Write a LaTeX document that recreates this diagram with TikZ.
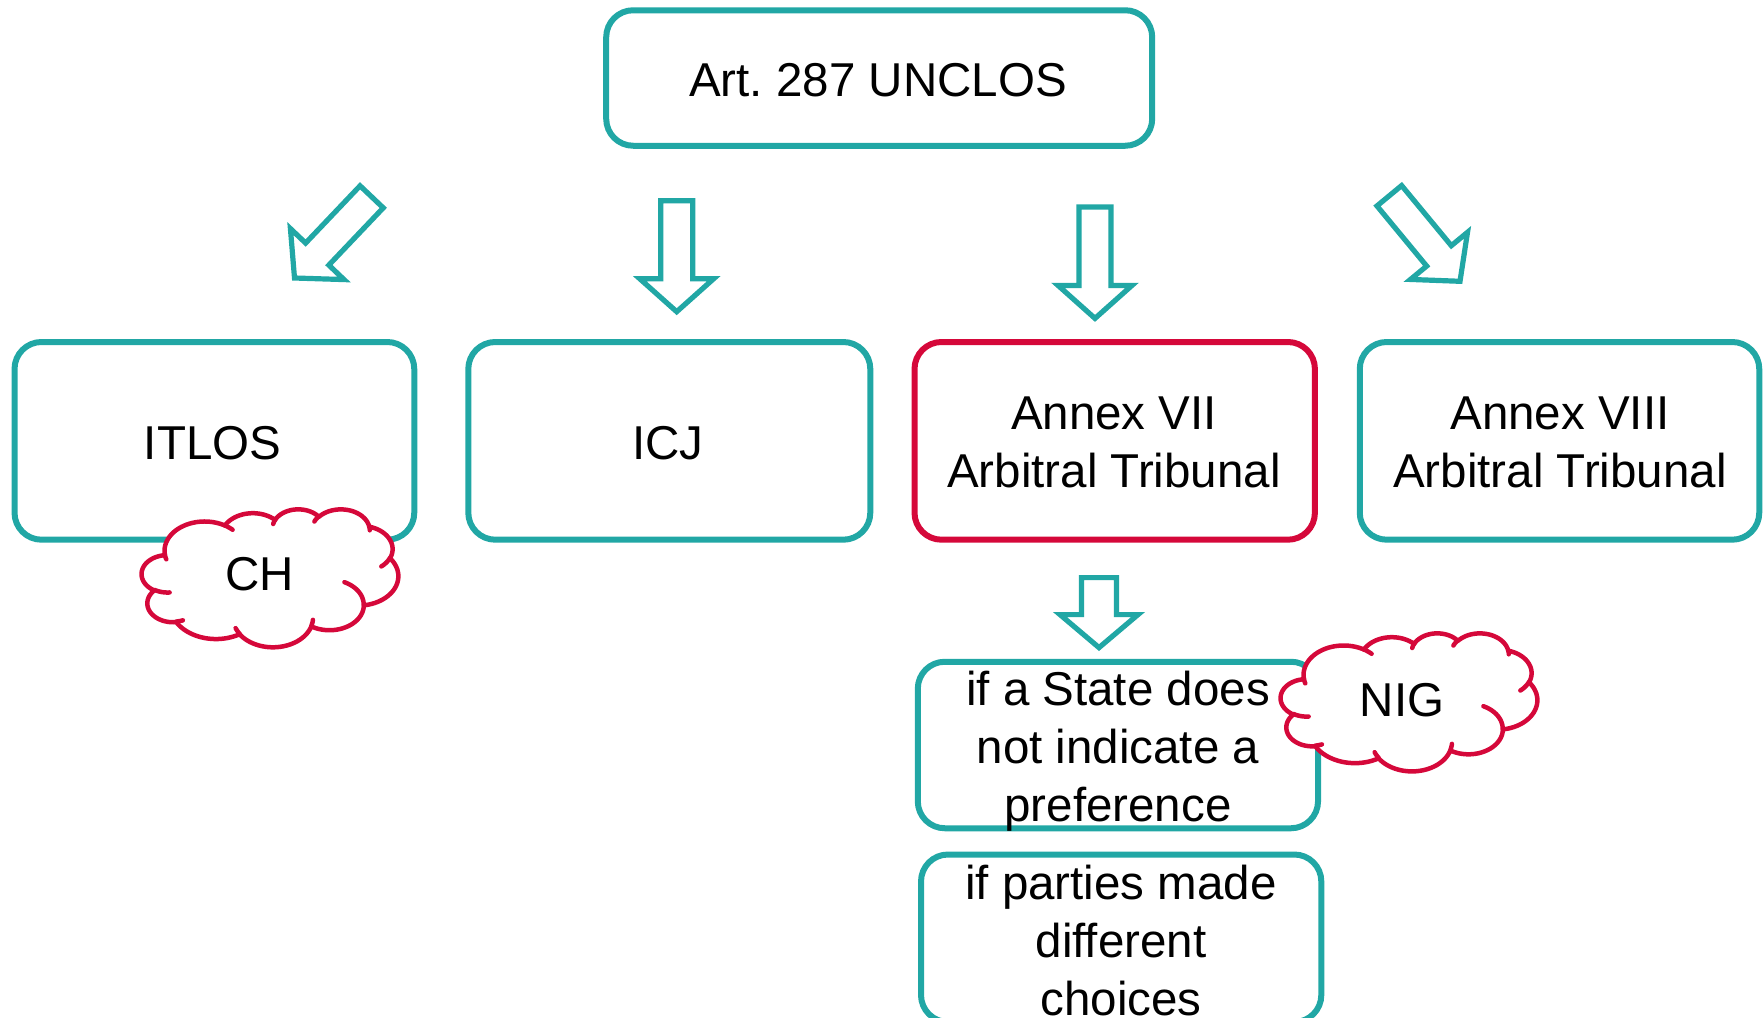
\documentclass[tikz,border=0pt]{standalone}
\usepackage{fontspec}
\setmainfont{Liberation Sans}
\definecolor{tealc}{RGB}{33,167,165}
\definecolor{redc}{RGB}{213,8,58}
\tikzset{
  box/.style={draw=tealc, line width=6pt, rounded corners=27pt, inner sep=0pt, outer sep=0pt},
  redbox/.style={box, draw=redc},
  txt/.style={font=\fontsize{47.5}{58}\selectfont, align=center, inner sep=0pt, text=black},
  arrowline/.style={draw=tealc, line width=5.2pt, fill=white, line join=miter},
  cloudline/.style={draw=redc, line width=4.5pt, line join=round, line cap=round},
  pics/barrow/.style args={#1/#2/#3/#4}{code={%
    \draw[arrowline] (-#1,-#4) -- (#1,-#4) -- (#1,-#3) -- (#2,-#3) -- (0,0) -- (-#2,-#3) -- (-#1,-#3) -- cycle;}}
}
% PowerPoint-style cloud path (normalised to 0..100)
\def\cldpath{}
\newcommand\cldM[2]{\xdef\cldx{#1}\xdef\cldy{#2}\xdef\cldpath{\unexpanded\expandafter{\cldpath} (#1,#2)}}
\newcommand\cldA[4]{%
  \pgfmathsetmacro\cldts{atan2((#1)*sin(#3),(#2)*cos(#3))}%
  \pgfmathsetmacro\cldte{atan2((#1)*sin((#3)+(#4)),(#2)*cos((#3)+(#4)))}%
  \pgfmathsetmacro\cldtu{\cldts+mod(\cldte-(\cldts)+720,360)}%
  \pgfmathsetmacro\cldcx{\cldx-(#1)*cos(\cldts)}%
  \pgfmathsetmacro\cldcy{\cldy-(#2)*sin(\cldts)}%
  \pgfmathsetmacro\cldnx{\cldcx+(#1)*cos(\cldtu)}%
  \pgfmathsetmacro\cldny{\cldcy+(#2)*sin(\cldtu)}%
  \xdef\cldpath{\unexpanded\expandafter{\cldpath} -- plot[domain=\cldts:\cldtu,samples=30] ({\cldcx+(#1)*cos(\noexpand\x)},{\cldcy+(#2)*sin(\noexpand\x)})}%
  \xdef\cldx{\cldnx}\xdef\cldy{\cldny}}
\begin{document}
\begin{tikzpicture}[x=1pt,y=-1pt]
\useasboundingbox (0,0) rectangle (1763,1017);
\clip (0,0) rectangle (1763,1017);
% build cloud outline
\def\cldpath{}%
\cldM{9.0278}{33.2639}%
\cldA{15.6319}{21.2731}{-190.48748}{123.78053}%
\cldA{12.3449}{16.8218}{-144.10238}{89.94523}%
\cldA{10.1042}{13.7616}{-145.80792}{99.72302}%
\cldA{11.2431}{15.2662}{-130.98607}{117.24173}%
\cldA{12.3449}{16.8356}{-78.70888}{109.02692}%
\cldA{15.6829}{21.3426}{-46.26725}{130.269}%
\cldA{13.3912}{18.2106}{0.62502}{114.03333}%
\cldA{15.6296}{21.3310}{22.4516}{115.17255}%
\cldA{17.8704}{24.4051}{66.24263}{75.71102}%
\cldA{10.0926}{13.6991}{-274.94208}{146.73557}%
\cldA{10.0579}{13.7616}{-246.8285}{152.51885}%
\let\cldmain\cldpath
\def\cldpath{}%
\cldM{10.8634}{60.5949}\cldA{10.0579}{13.7616}{86.742}{26.4295}%
\cldM{16.0370}{80.7847}\cldA{10.0926}{13.6991}{73.61047}{11.44747}%
\cldM{38.1435}{90.4861}\cldA{15.6296}{21.3310}{137.62415}{14.0811}%
\cldM{66.7292}{80.4421}\cldA{15.6296}{21.3310}{6.45327}{15.99835}%
\cldM{79.0023}{53.1343}\cldA{13.3912}{18.2106}{-70.29235}{70.91737}%
\cldM{96.7546}{35.5417}\cldA{12.3449}{16.8356}{30.31803}{27.7515}%
\cldM{88.7130}{12.5602}\cldA{11.2431}{15.2662}{-13.74433}{14.8589}%
\cldM{67.3102}{9.1481}\cldA{11.2431}{15.2662}{-149.18145}{18.197}%
\cldM{51.2523}{10.9259}\cldA{10.1042}{13.7616}{-163.49427}{17.68748}%
\cldM{32.4074}{12.0185}\cldA{15.6319}{21.2731}{-66.70695}{12.31935}%
\cldM{9.5532}{36.5486}\cldA{15.6319}{21.2731}{157.65435}{11.85817}%
\let\clddetail\cldpath
% top box
\node[box, minimum width=546pt, minimum height=135.5pt] (top) at (879.2,78) {};
\node[txt, anchor=base] (topt) at (878,96.7) {Art.\ 287 UNCLOS};
% second row boxes
\node[box, minimum width=399.75pt, minimum height=197.7pt] (itlos) at (214.4,440.85) {};
\node[box, minimum width=402pt, minimum height=197.7pt] (icj) at (669.3,440.85) {};
\node[redbox, minimum width=400.4pt, minimum height=197.7pt] (ann7) at (1114.7,440.85) {};
\node[box, minimum width=399.5pt, minimum height=197.7pt] (ann8) at (1559.5,440.85) {};
\node[txt, anchor=base] (itlost) at (212.5,459.9) {ITLOS};
\node[txt, anchor=base] (icjt) at (668,459.9) {ICJ};
\node[txt, anchor=base] (ann7t) at (1114,487.5) {Annex VII\\Arbitral Tribunal};
\node[txt, anchor=base] (ann8t) at (1560,487.5) {Annex VIII\\Arbitral Tribunal};
% block arrows
\pic at (294.5,278) [rotate=-43.55] {barrow=16/37/33/112};
\pic at (676.7,311.7) {barrow=16/37/33/111};
\pic at (1095,318.4) {barrow=16/37/33/111.5};
\pic at (1460,281.3) [rotate=39.57] {barrow=16/37/33/111};
\pic at (1099,647.6) {barrow=17.5/39/33/70};
% lower boxes
\node[box, minimum width=400.25pt, minimum height=166.5pt] (pref) at (1117.9,745) {};
\node[txt, anchor=base] (preft) at (1118,821) {if a State does\\not indicate a\\preference};
\node[box, minimum width=400.3pt, minimum height=167.5pt] (diff) at (1121.15,938.25) {};
\node[txt, anchor=base] (difft) at (1121,1015) {if parties made\\different\\choices};
% clouds
\begin{scope}[shift={(141.75,508.9)}, xscale=2.565, yscale=1.379]
  \filldraw[cloudline, fill=white] \cldmain -- cycle;
  \draw[cloudline] \clddetail;
\end{scope}
\node[txt, anchor=base] (ch) at (260,590) {CH};
\begin{scope}[shift={(1280.75,632.9)}, xscale=2.565, yscale=1.38]
  \filldraw[cloudline, fill=white] \cldmain -- cycle;
  \draw[cloudline] \clddetail;
\end{scope}
\node[txt, anchor=base] (nig) at (1402,716) {NIG};
\end{tikzpicture}
\end{document}
